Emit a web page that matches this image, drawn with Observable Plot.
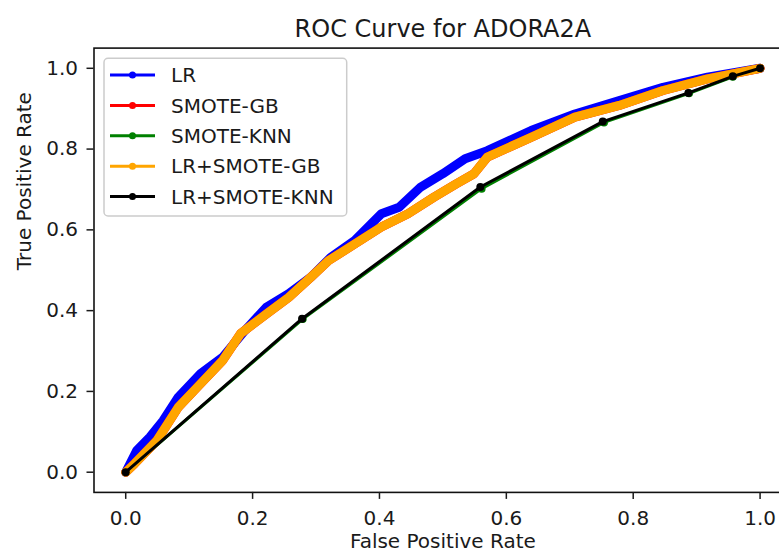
<!DOCTYPE html>
<html><head><meta charset="utf-8">
<script src="https://cdn.jsdelivr.net/npm/d3@7"></script>
<script src="https://cdn.jsdelivr.net/npm/@observablehq/plot@0.6"></script>
<style>html,body{margin:0;padding:0;background:#fff;overflow:hidden}</style>
</head><body><div id="chart"></div>
<script>
const title = "ROC Curve for ADORA2A";
const xLabel = "False Positive Rate";
const yLabel = "True Positive Rate";
const seriesNames = ["LR", "SMOTE-GB", "SMOTE-KNN", "LR+SMOTE-GB", "LR+SMOTE-KNN"];
const seriesColors = ["#0000ff", "#ff0000", "#008000", "#ffa500", "#000000"];
const tickValues = [0, 0.2, 0.4, 0.6, 0.8, 1.0];

// LR
const lrFpr = [0, 0.0175, 0.038, 0.059, 0.083, 0.118, 0.153, 0.188, 0.222, 0.257, 0.292, 0.323, 0.361, 0.403, 0.431, 0.465, 0.500, 0.535, 0.570, 0.639, 0.708, 0.778, 0.847, 0.917, 1.0];
const lrTpr = [0, 0.054, 0.087, 0.128, 0.186, 0.244, 0.285, 0.351, 0.409, 0.442, 0.483, 0.532, 0.574, 0.640, 0.656, 0.706, 0.739, 0.776, 0.796, 0.846, 0.887, 0.920, 0.953, 0.978, 1.0];
// SMOTE-GB (hidden beneath LR+SMOTE-GB)
const smoteGbFpr = [0, 0.014, 0.049, 0.083, 0.118, 0.153, 0.181, 0.222, 0.257, 0.292, 0.320, 0.361, 0.403, 0.445, 0.486, 0.521, 0.549, 0.570, 0.639, 0.708, 0.778, 0.847, 0.917, 1.0];
const smoteGbTpr = [0, 0.021, 0.078, 0.161, 0.219, 0.277, 0.343, 0.392, 0.433, 0.483, 0.524, 0.565, 0.607, 0.640, 0.681, 0.714, 0.739, 0.780, 0.829, 0.879, 0.908, 0.945, 0.974, 1.0];
// SMOTE-KNN
const smoteKnnFpr = [0, 0.279, 0.561, 0.754, 0.888, 0.957, 1.0];
const smoteKnnTpr = [0, 0.379, 0.702, 0.866, 0.938, 0.979, 1.0];
// LR+SMOTE-GB
const lrGbFpr = [0, 0.014, 0.049, 0.083, 0.118, 0.153, 0.181, 0.222, 0.257, 0.292, 0.320, 0.361, 0.403, 0.445, 0.486, 0.521, 0.549, 0.570, 0.639, 0.708, 0.778, 0.847, 0.917, 1.0];
const lrGbTpr = [0, 0.021, 0.078, 0.161, 0.219, 0.277, 0.343, 0.392, 0.433, 0.483, 0.524, 0.565, 0.607, 0.640, 0.681, 0.714, 0.739, 0.780, 0.829, 0.879, 0.908, 0.945, 0.974, 1.0];
// LR+SMOTE-KNN
const lrKnnFpr = [0, 0.278, 0.559, 0.752, 0.887, 0.957, 1.0];
const lrKnnTpr = [0, 0.380, 0.706, 0.868, 0.939, 0.980, 1.0];

const toRows = (fpr, tpr, name) => fpr.map((f, i) => ({fpr: f, tpr: tpr[i], series: name}));
const lr = toRows(lrFpr, lrTpr, seriesNames[0]);
const smoteGb = toRows(smoteGbFpr, smoteGbTpr, seriesNames[1]);
const smoteKnn = toRows(smoteKnnFpr, smoteKnnTpr, seriesNames[2]);
const lrGb = toRows(lrGbFpr, lrGbTpr, seriesNames[3]);
const lrKnn = toRows(lrKnnFpr, lrKnnTpr, seriesNames[4]);

const W = 779, H = 553;
const mLeft = 93.5, mTop = 47.6, mBottom = 61.1, mRight = -12.3;
const font = "DejaVu Sans";

const band = (data, color) => Plot.line(data, {x: "fpr", y: "tpr", stroke: color, strokeWidth: 9, strokeLinejoin: "round", strokeLinecap: "round"});
const thin = (data, color) => [
  Plot.line(data, {x: "fpr", y: "tpr", stroke: color, strokeWidth: 3}),
  Plot.dot(data, {x: "fpr", y: "tpr", fill: color, r: 4})
];

const chart = Plot.plot({
  width: W, height: H,
  marginLeft: mLeft, marginRight: mRight, marginTop: mTop, marginBottom: mBottom,
  style: {fontFamily: font, fontSize: "20px", color: "#1a1a1a", background: "white"},
  x: {domain: [-0.05, 1.05]},
  y: {domain: [-0.05, 1.05]},
  marks: [
    band(lr, seriesColors[0]),
    band(smoteGb, seriesColors[1]),
    ...thin(smoteKnn, seriesColors[2]),
    band(lrGb, seriesColors[3]),
    ...thin(lrKnn, seriesColors[4]),
    Plot.frame({stroke: "#111", strokeWidth: 1.6}),
    Plot.axisX({anchor: "bottom", ticks: tickValues, tickFormat: d => d.toFixed(1), tickSize: 7, tickPadding: 11, fontSize: 20, label: null, strokeWidth: 1.5}),
    Plot.axisY({anchor: "left", ticks: tickValues, tickFormat: d => d.toFixed(1), tickSize: 7, tickPadding: 9, fontSize: 20, label: null, strokeWidth: 1.5}),
    Plot.text([title], {frameAnchor: "top", dy: -11, lineAnchor: "bottom", fontSize: 24}),
    Plot.text([xLabel], {frameAnchor: "bottom", dy: 56, lineAnchor: "bottom", fontSize: 20}),
    Plot.text([yLabel], {frameAnchor: "left", rotate: -90, dx: -63, lineAnchor: "bottom", fontSize: 20})
  ]
});
document.getElementById("chart").append(chart);

// Legend (matplotlib-style, inside upper-left of the axes)
const svg = d3.select(chart);
const lg = svg.append("g").attr("font-family", font).attr("font-size", 20).attr("text-anchor", "start");
const box = {x: 104, y: 58.3, w: 242.7, h: 157.7};
lg.append("rect").attr("x", box.x).attr("y", box.y).attr("width", box.w).attr("height", box.h)
  .attr("rx", 4).attr("fill", "white").attr("fill-opacity", 0.8).attr("stroke", "#cccccc").attr("stroke-width", 1.5);
seriesNames.forEach((name, i) => {
  const cy = 75 + i * 30.4;
  lg.append("line").attr("x1", 110).attr("x2", 155).attr("y1", cy).attr("y2", cy)
    .attr("stroke", seriesColors[i]).attr("stroke-width", 3);
  lg.append("circle").attr("cx", 132.5).attr("cy", cy).attr("r", 3.5).attr("fill", seriesColors[i]);
  lg.append("text").attr("x", 171).attr("y", cy).attr("dy", "0.36em").attr("text-anchor", "start").attr("fill", "#1a1a1a").text(name);
});
</script></body></html>
